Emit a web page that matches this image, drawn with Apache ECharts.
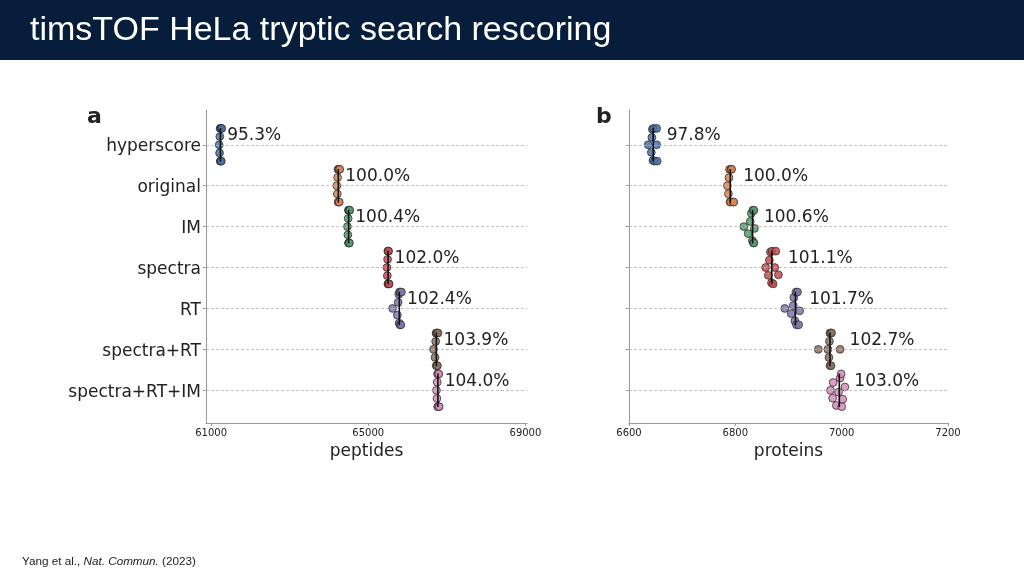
<!DOCTYPE html>
<html>
<head>
<meta charset="utf-8">
<script src="https://cdn.jsdelivr.net/npm/echarts@6/dist/echarts.min.js"></script>
<style>
html,body{margin:0;padding:0;background:#fff;}
#c{width:1024px;height:576px;}
</style>
</head>
<body>
<div id="c"></div>
<script>
// ---------- data ----------
const CATEGORIES = ['hyperscore', 'original', 'IM', 'spectra', 'RT', 'spectra+RT', 'spectra+RT+IM'];

// panel a: peptides per run
const PEP_HYPERSCORE = [61205, 61215, 61222, 61228, 61234, 61240, 61246, 61252, 61260, 61270];
const PEP_ORIGINAL   = [64200, 64212, 64220, 64228, 64234, 64240, 64246, 64252, 64262, 64275];
const PEP_IM         = [64470, 64480, 64488, 64494, 64498, 64502, 64506, 64512, 64520, 64530];
const PEP_SPECTRA    = [65475, 65485, 65492, 65498, 65502, 65506, 65510, 65516, 65522, 65530];
const PEP_RT         = [65620, 65740, 65760, 65775, 65785, 65795, 65805, 65815, 65830, 65845];
const PEP_SPEC_RT    = [66660, 66700, 66715, 66725, 66730, 66736, 66742, 66750, 66760, 66775];
const PEP_SPEC_RT_IM = [66735, 66748, 66756, 66764, 66770, 66774, 66780, 66786, 66795, 66805];
const PEP_LABELS = ['95.3%', '100.0%', '100.4%', '102.0%', '102.4%', '103.9%', '104.0%'];
const PEP_TICKS = [61000, 65000, 69000];

// panel b: proteins per run
const PROT_HYPERSCORE = [6636, 6642, 6643, 6644, 6645, 6646, 6648, 6652, 6652, 6653];
const PROT_ORIGINAL   = [6785, 6787, 6788, 6789, 6790, 6791, 6792, 6793, 6796, 6797];
const PROT_IM         = [6816, 6824, 6828, 6830, 6832, 6833, 6834, 6835, 6835, 6836];
const PROT_SPECTRA    = [6857, 6862, 6864, 6866, 6868, 6869, 6871, 6874, 6876, 6881];
const PROT_RT         = [6893, 6905, 6909, 6910, 6912, 6914, 6915, 6917, 6919, 6921];
const PROT_SPEC_RT    = [6956, 6974, 6976, 6977, 6978, 6978, 6979, 6980, 6981, 6997];
const PROT_SPEC_RT_IM = [6979, 6983, 6984, 6990, 6994, 6997, 6999, 7000, 7002, 7006];
const PROT_LABELS = ['97.8%', '100.0%', '100.6%', '101.1%', '101.7%', '102.7%', '103.0%'];
const PROT_TICKS = [6600, 6800, 7000, 7200];

// ---------- style ----------
const PALETTE = ['#4a70a8', '#DD8452', '#529e68', '#C44E52', '#7e76ae', '#8c7060', '#d68cba'];
const FONT = 'DejaVu Sans';
const TXT = '#222222';
const Y_MIN = -0.85, Y_MAX = 6.8;
const PANELS = [
  { values: [PEP_HYPERSCORE, PEP_ORIGINAL, PEP_IM, PEP_SPECTRA, PEP_RT, PEP_SPEC_RT, PEP_SPEC_RT_IM],
    labels: PEP_LABELS, ticks: PEP_TICKS, name: 'peptides',
    xmin: 60870, xmax: 69040, left: 206, right: 497, labelGap: 5, showY: true },
  { values: [PROT_HYPERSCORE, PROT_ORIGINAL, PROT_IM, PROT_SPECTRA, PROT_RT, PROT_SPEC_RT, PROT_SPEC_RT_IM],
    labels: PROT_LABELS, ticks: PROT_TICKS, name: 'proteins',
    xmin: 6600, xmax: 7200, left: 629, right: 76, labelGap: 9, showY: false }
];
const GRID_TOP = 110, GRID_BOTTOM = 153, W = 1024, H = 576;
const DIAM = 8.2;          // swarm spacing in px
const HALF_WIDTH = 0.4;    // swarm half-width in category units

function median(a) {
  const s = a.slice().sort((x, y) => x - y);
  const n = s.length;
  return n % 2 ? s[(n - 1) / 2] : (s[n / 2 - 1] + s[n / 2]) / 2;
}

function swarm(pxs, d, limit) {
  const order = pxs.map((x, i) => i).sort((a, b) => pxs[a] - pxs[b]);
  const placed = [];
  const offs = new Array(pxs.length);
  for (const i of order) {
    const x = pxs[i];
    const cands = [0];
    for (const p of placed) {
      const dx = Math.abs(x - p.x);
      if (dx < d) {
        const h = Math.sqrt(d * d - dx * dx);
        cands.push(p.o + h, p.o - h);
      }
    }
    cands.sort((a, b) => (Math.abs(a) - Math.abs(b)) || (b - a));
    let chosen = cands[0];
    for (const c of cands) {
      if (placed.every(p => (p.x - x) ** 2 + (p.o - c) ** 2 >= d * d - 1e-6)) { chosen = c; break; }
    }
    placed.push({ x: x, o: chosen });
    offs[i] = chosen;
  }
  return offs.map(o => Math.max(-limit, Math.min(limit, o)));
}

const grids = [], xAxes = [], yAxes = [], series = [];
const gridH = H - GRID_TOP - GRID_BOTTOM;
const unitPx = gridH / (Y_MAX - Y_MIN);

PANELS.forEach((P, k) => {
  grids.push({ left: P.left, right: P.right, top: GRID_TOP, bottom: GRID_BOTTOM, containLabel: false });
  const gridW = W - P.left - P.right;
  const toPx = v => (v - P.xmin) / (P.xmax - P.xmin) * gridW;
  xAxes.push({
    type: 'value', gridIndex: k, min: P.xmin, max: P.xmax, position: 'bottom',
    name: P.name, nameLocation: 'middle', nameGap: 14,
    nameTextStyle: { fontFamily: FONT, fontSize: 17, color: TXT, verticalAlign: 'top' },
    axisLine: { show: true, onZero: false, lineStyle: { color: '#9a9a9a', width: 1 } },
    axisTick: { show: true, customValues: P.ticks, length: 3, lineStyle: { color: '#9a9a9a' } },
    axisLabel: { show: true, customValues: P.ticks, formatter: v => String(v),
      fontFamily: FONT, fontSize: 10, color: TXT, margin: 5 },
    splitLine: { show: false }
  });
  yAxes.push({
    type: 'value', gridIndex: k, inverse: true, min: Y_MIN, max: Y_MAX, position: 'left',
    axisLine: { show: true, onZero: false, lineStyle: { color: '#9a9a9a', width: 1 } },
    axisTick: { show: true, customValues: CATEGORIES.map((c, i) => i), length: 3, lineStyle: { color: '#9a9a9a' } },
    axisLabel: { show: false },
    splitLine: { show: false }
  });

  // dashed category lines
  series.push({
    type: 'line', xAxisIndex: k, yAxisIndex: k, data: [], silent: true,
    markLine: {
      silent: true, symbol: ['none', 'none'], label: { show: false },
      lineStyle: { type: [3, 2], color: '#b4b4b4', width: 0.8 },
      data: CATEGORIES.map((c, i) => ({ yAxis: i }))
    }
  });

  // category names (left of the spine)
  if (P.showY) {
    series.push({
      type: 'scatter', xAxisIndex: k, yAxisIndex: k, z: 6, silent: true, clip: false,
      symbolSize: 1, itemStyle: { color: '#ffffff', opacity: 0 },
      label: { show: true, position: 'left', distance: 4.5, formatter: '{b}',
        fontFamily: FONT, fontSize: 17, color: TXT, opacity: 1, textBorderWidth: 0 },
      data: CATEGORIES.map((c, i) => ({ name: c, value: [P.xmin, i + 0.05] }))
    });
  }

  P.values.forEach((vals, i) => {
    const offs = swarm(vals.map(toPx), DIAM, HALF_WIDTH * unitPx);
    series.push({
      type: 'scatter', xAxisIndex: k, yAxisIndex: k, z: 3,
      symbolSize: 7.8,
      itemStyle: { color: PALETTE[i], opacity: 0.85, borderColor: '#2b2b2b', borderWidth: 0.9 },
      data: vals.map((v, j) => [v, i + offs[j] / unitPx])
    });
    const med = median(vals);
    series.push({
      type: 'line', xAxisIndex: k, yAxisIndex: k, z: 5, silent: true,
      symbol: 'none', lineStyle: { color: '#111', width: 1.6 },
      data: [[med, i - 0.41], [med, i + 0.41]]
    });
    series.push({
      type: 'scatter', xAxisIndex: k, yAxisIndex: k, z: 6, silent: true,
      symbolSize: 1, itemStyle: { color: '#ffffff', opacity: 0 },
      label: { show: true, position: 'right', distance: P.labelGap, formatter: P.labels[i],
        fontFamily: FONT, fontSize: 17, color: TXT, opacity: 1, textBorderWidth: 0 },
      data: [[Math.max.apply(null, vals), i - 0.22]]
    });
  });
});

const chart = echarts.init(document.getElementById('c'));
chart.setOption({
  animation: false,
  backgroundColor: '#ffffff',
  grid: grids, xAxis: xAxes, yAxis: yAxes, series: series,
  graphic: { elements: [
    { type: 'rect', left: 0, top: 0, z: 1, shape: { width: W, height: 60 }, style: { fill: '#061d3b' } },
    { type: 'text', x: 30, y: 31, z: 10, style: { text: 'timsTOF HeLa tryptic search rescoring',
        fill: '#ffffff', font: '34px "Liberation Sans", Arial, sans-serif', verticalAlign: 'middle' } },
    { type: 'text', x: 87, y: 117, z: 10, style: { text: 'a', fill: '#222',
        font: 'bold 22px "DejaVu Sans"', verticalAlign: 'middle' } },
    { type: 'text', x: 596, y: 117, z: 10, style: { text: 'b', fill: '#222',
        font: 'bold 22px "DejaVu Sans"', verticalAlign: 'middle' } },
    { type: 'text', x: 22, y: 562, z: 10, style: {
        text: '{n|Yang et al., }{i|Nat. Commun.}{n| (2023)}', verticalAlign: 'middle',
        rich: { n: { fontFamily: 'Liberation Sans', fontSize: 11.7, fill: '#222', color: '#222' },
                i: { fontFamily: 'Liberation Sans', fontSize: 11.7, fontStyle: 'italic', fill: '#222', color: '#222' } } } }
  ] }
});
</script>
</body>
</html>
